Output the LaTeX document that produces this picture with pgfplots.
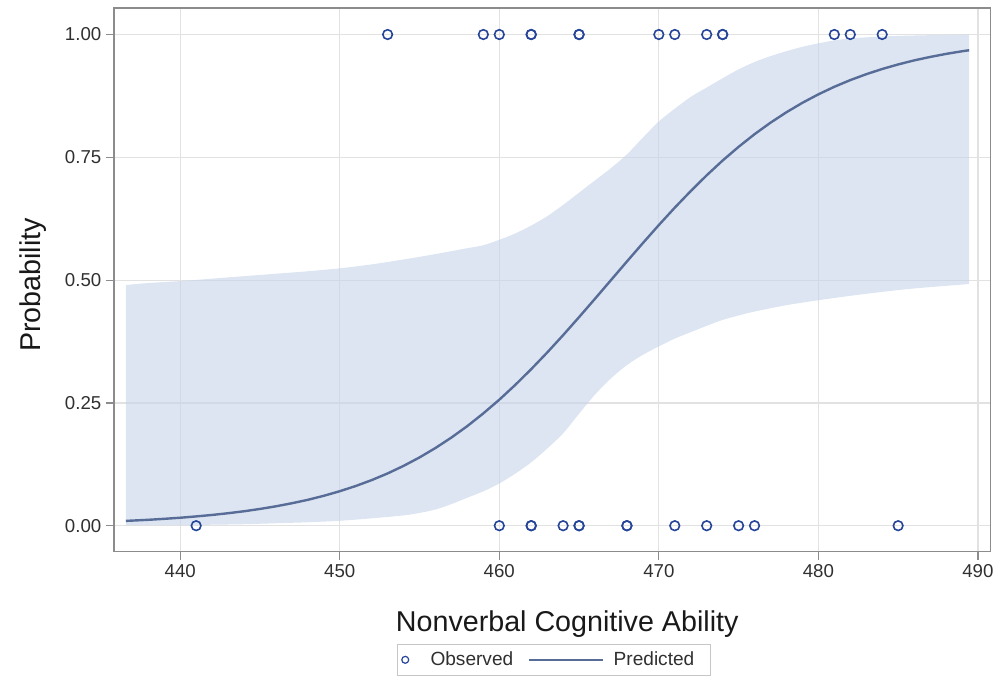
\documentclass[border=0pt]{standalone}
\usepackage{pgfplots}
\pgfplotsset{compat=1.18}
\usepgfplotslibrary{fillbetween}
\usepackage{fontspec}
\setmainfont{Liberation Sans}
\definecolor{bandc}{RGB}{197,212,232}
\definecolor{linec}{RGB}{88,108,152}
\definecolor{obsc}{RGB}{38,68,152}
\definecolor{gridc}{RGB}{226,226,226}
\definecolor{framec}{RGB}{140,140,140}
\definecolor{tickc}{RGB}{48,48,48}
\begin{document}
\begin{tikzpicture}
\begin{axis}[
  name=ax,
  scale only axis,
  width=657.5bp, height=407.8bp,
  xmin=435.85, xmax=490.8,
  ymin=-0.053, ymax=1.054,
  xtick={440,450,460,470,480,490},
  ytick={0,0.25,0.5,0.75,1},
  /pgf/number format/assume math mode=true,
  yticklabel style={/pgf/number format/.cd, fixed, fixed zerofill, precision=2},
  xticklabel style={/pgf/number format/.cd, fixed, precision=0, 1000 sep={}},
  tick label style={font=\fontsize{14bp}{16bp}\selectfont, text=tickc},
  tick align=outside,
  major tick length=6bp,
  tick style={framec, line width=0.9bp},
  xtick pos=bottom, ytick pos=left,
  grid=major,
  major grid style={gridc, line width=0.9bp},
  axis line style={framec, line width=1.1bp},
  xlabel={Nonverbal Cognitive Ability},
  ylabel={Probability},
  label style={font=\fontsize{21.5bp}{25bp}\selectfont, text=black!90},
  xlabel style={at={(axis description cs:0.517,-0.147)}, anchor=base},
  ylabel style={at={(axis description cs:-0.0844,0.4905)}, anchor=base},
  legend columns=2,
  legend style={at={(0.502,-0.1698)}, anchor=north, draw=gray!45, line width=0.8bp,
    font=\fontsize{14.3bp}{16bp}\selectfont, text=tickc,
    inner xsep=6bp, inner ysep=3.5bp,
    /tikz/every even column/.append style={column sep=9bp}},
  clip=false,
]
\addlegendimage{legend image code/.code={%
  \draw[overlay, obsc, line width=0.9bp] (0bp,0bp) circle (2.6bp);
  \path[draw=none, fill=none] (0bp,-2.6bp) rectangle (17bp,2.6bp);}}
\addlegendentry{Observed}
\addlegendimage{legend image code/.code={%
  \draw[linec, line width=1.8bp] (0bp,0bp) -- (55.5bp,0bp);
  \path[draw=none, fill=none] (0bp,-1bp) rectangle (61.5bp,1bp);}}
\addlegendentry{Predicted\hspace*{4.5bp}}

% confidence band limits
\addplot[draw=none, smooth, name path=upper, forget plot] table {
x y
436.6 0.490
438 0.494
440 0.498
442 0.503
444 0.508
446 0.513
448 0.518
450 0.524
452 0.532
454 0.542
456 0.553
458 0.565
459 0.571
460 0.582
461 0.595
462 0.611
463 0.630
464 0.653
465 0.678
466 0.703
467 0.728
468 0.756
469 0.790
470 0.823
471 0.849
472 0.873
473 0.892
474 0.911
475 0.929
476 0.944
477 0.956
478 0.966
479 0.975
480 0.982
481 0.988
482 0.992
484 0.996
486 0.998
489.45 1.000
};
\addplot[draw=none, smooth, name path=lower, forget plot] table {
x y
436.6 0.001
440 0.001
442 0.002
444 0.003
446 0.005
448 0.007
450 0.010
452 0.015
454 0.021
455 0.026
456 0.033
457 0.044
458 0.057
459 0.070
460 0.086
461 0.106
462 0.129
463 0.157
464 0.188
465 0.228
466 0.267
467 0.300
468 0.327
469 0.348
470 0.365
471 0.381
472 0.394
473 0.407
474 0.419
475 0.428
476 0.436
478 0.449
480 0.459
482 0.468
484 0.476
486 0.483
489.45 0.492
};
\addplot[bandc, fill opacity=0.6, draw=none, forget plot] fill between[of=upper and lower];

% predicted probability
\addplot[linec, line width=1.8bp, forget plot] table {
x y
436.6 0.0098
437 0.0104
438 0.0120
439 0.0140
440 0.0162
441 0.0189
442 0.0219
443 0.0254
444 0.0294
445 0.0341
446 0.0395
447 0.0457
448 0.0527
449 0.0609
450 0.0702
451 0.0808
452 0.0928
453 0.1064
454 0.1218
455 0.1390
456 0.1582
457 0.1795
458 0.2029
459 0.2287
460 0.2565
461 0.2866
462 0.3187
463 0.3525
464 0.3879
465 0.4246
466 0.4621
467 0.5000
468 0.5379
469 0.5754
470 0.6121
471 0.6475
472 0.6813
473 0.7134
474 0.7435
475 0.7713
476 0.7971
477 0.8205
478 0.8418
479 0.8610
480 0.8782
481 0.8936
482 0.9072
483 0.9192
484 0.9298
485 0.9391
486 0.9473
487 0.9543
488 0.9605
489 0.9659
489.45 0.9680
};

% observed outcomes
\addplot[only marks, mark=o, mark size=3.6bp, draw=obsc, line width=1.2bp, forget plot] table {
x y
453 1
459 1
460 1
462 1
462 1
465 1
465 1
470 1
471 1
473 1
474 1
474 1
481 1
482 1
484 1
441 0
460 0
462 0
462 0
464 0
465 0
465 0
468 0
468 0
471 0
473 0
475 0
476 0
485 0
};
\end{axis}
\pgfresetboundingbox
\path ([shift={(-85.5bp,-92.5bp)}]ax.south west) rectangle ([shift={(11.5bp,6bp)}]ax.north east);
\end{tikzpicture}
\end{document}
